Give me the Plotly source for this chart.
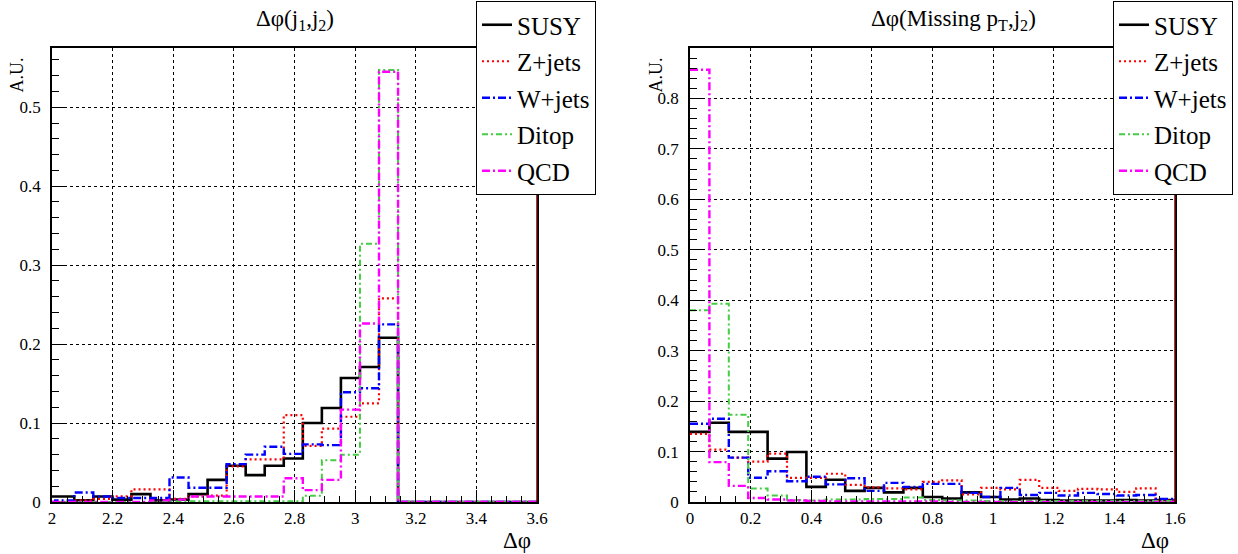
import math
import plotly.graph_objects as go

W, H = 1238, 554

# ---------------- data ----------------
series_names = ["SUSY", "Z+jets", "W+jets", "Ditop", "QCD"]

# Left: Δφ(j1,j2), bin width π/50, first listed bin index 31 (1.948–2.011)
left_first_bin = 31
left_bin_width = math.pi / 50
susy_L = [0.007, 0.007, 0.002, 0.007, 0.003, 0.010, 0.002, 0.003, 0.010, 0.028,
          0.046, 0.034, 0.046, 0.055, 0.100, 0.119, 0.157, 0.171, 0.208]
zjets_L = [0.0, 0.0, 0.002, 0.004, 0.007, 0.016, 0.016, 0.004, 0.007, 0.008,
           0.045, 0.054, 0.054, 0.110, 0.071, 0.093, 0.108, 0.125, 0.258]
wjets_L = [0.0, 0.002, 0.012, 0.007, 0.005, 0.005, 0.005, 0.031, 0.018, 0.018,
           0.048, 0.060, 0.070, 0.061, 0.073, 0.072, 0.139, 0.144, 0.225]
ditop_L = [0.0, 0.0, 0.0, 0.0, 0.0, 0.0, 0.0, 0.001, 0.001, 0.001,
           0.001, 0.001, 0.001, 0.001, 0.008, 0.053, 0.060, 0.327, 0.547]
qcd_L = [0.0, 0.0, 0.0, 0.0, 0.0, 0.0, 0.002, 0.003, 0.007, 0.007,
         0.007, 0.007, 0.007, 0.030, 0.015, 0.028, 0.117, 0.226, 0.545]
left_empty_bins = 8  # empty bins above π, drawn at zero up to the axis end

# Right: Δφ(Missing pT, j2), bin width 0.064, starting at 0
right_bin_width = 0.064
susy_R = [0.139, 0.157, 0.139, 0.139, 0.086, 0.099, 0.030, 0.044, 0.022, 0.028,
          0.019, 0.028, 0.010, 0.007, 0.019, 0.010, 0.005, 0.007, 0.004, 0.003,
          0.003, 0.003, 0.004, 0.003, 0.004]
zjets_R = [0.135, 0.104, 0.088, 0.080, 0.096, 0.048, 0.048, 0.056, 0.034, 0.029,
           0.027, 0.025, 0.040, 0.043, 0.015, 0.028, 0.025, 0.044, 0.028, 0.022,
           0.026, 0.025, 0.020, 0.027, 0.003]
wjets_R = [0.155, 0.165, 0.088, 0.048, 0.061, 0.041, 0.050, 0.035, 0.047, 0.022,
           0.038, 0.030, 0.036, 0.036, 0.018, 0.010, 0.028, 0.014, 0.018, 0.013,
           0.018, 0.016, 0.013, 0.014, 0.006]
ditop_R = [0.380, 0.393, 0.173, 0.027, 0.013, 0.004, 0.003, 0.005, 0.005, 0.006,
           0.006, 0.009, 0.004, 0.003, 0.003, 0.002, 0.002, 0.002, 0.002, 0.002,
           0.002, 0.002, 0.002, 0.002, 0.002]
qcd_R = [0.857, 0.079, 0.032, 0.008, 0.005, 0.003, 0.002, 0.001, 0.001, 0.001,
         0.001, 0.001, 0.001, 0.0, 0.0, 0.0, 0.0, 0.0, 0.0, 0.0,
         0.0, 0.0, 0.0, 0.0, 0.0]
right_empty_bins = 1

left_x_ticks = ["2", "2.2", "2.4", "2.6", "2.8", "3", "3.2", "3.4", "3.6"]
left_y_ticks = ["0", "0.1", "0.2", "0.3", "0.4", "0.5"]
right_x_ticks = ["0", "0.2", "0.4", "0.6", "0.8", "1", "1.2", "1.4", "1.6"]
right_y_ticks = ["0", "0.1", "0.2", "0.3", "0.4", "0.5", "0.6", "0.7", "0.8"]

left_title = "Δφ(j<sub>1</sub>,j<sub>2</sub>)"
right_title = "Δφ(Missing p<sub>T</sub>,j<sub>2</sub>)"
y_title = "A.U."
x_title = "Δφ"

# ---------------- style ----------------
FONT = "Liberation Serif"
styles = {
    "SUSY": dict(color="black", width=2.6, dash="solid"),
    "Z+jets": dict(color="#ff0000", width=2.2, dash="2px,3px"),
    "W+jets": dict(color="#0000ff", width=2.4, dash="8px,3px,2px,3px"),
    "Ditop": dict(color="#44cc44", width=2.0, dash="6px,3px,2px,3px"),
    "QCD": dict(color="#ff00ff", width=2.4, dash="8px,3px,2px,3px"),
}

# pixel layout
L_X0, L_X1 = 52, 537
R_X0, R_X1 = 690, 1175
Y_TOP, Y_BOT = 48, 502


def px(x):
    return x / W


def py(y):
    return 1 - y / H


fig = go.Figure()


def add_hist(vals, first_bin, width, n_empty, name, xa, ya, legend, show):
    v = list(vals) + [0.0] * n_empty
    edges = [(first_bin + i) * width for i in range(len(v) + 1)]
    y = v + [v[-1]]
    st = styles[name]
    fig.add_trace(go.Scatter(
        x=edges, y=y, mode="lines", line_shape="hv", name=name,
        line=dict(color=st["color"], width=st["width"], dash=st["dash"]),
        xaxis=xa, yaxis=ya, legend=legend, legendgroup=legend + name,
        showlegend=show, hoverinfo="skip"))


left_sets = [susy_L, zjets_L, wjets_L, ditop_L, qcd_L]
right_sets = [susy_R, zjets_R, wjets_R, ditop_R, qcd_R]
for name, vals in zip(series_names, left_sets):
    add_hist(vals, left_first_bin, left_bin_width, left_empty_bins, name, "x", "y", "legend", True)
for name, vals in zip(series_names, right_sets):
    add_hist(vals, 0, right_bin_width, right_empty_bins, name, "x2", "y2", "legend2", True)


def axis_common(tickvals, ticktext, major_len, minor_dtick, minor_len):
    return dict(
        tickmode="array", tickvals=[float(t) for t in tickvals], ticktext=ticktext,
        ticks="inside", ticklen=major_len, tickwidth=1, tickcolor="black",
        showgrid=True, gridcolor="black", griddash="dot", gridwidth=1,
        showline=True, linecolor="black", linewidth=1.5, mirror=True,
        zeroline=False, fixedrange=True, automargin=False,
        tickfont=dict(family=FONT, size=17, color="black"),
        minor=dict(dtick=minor_dtick, ticks="inside", ticklen=minor_len,
                   tickcolor="black", tickwidth=1, showgrid=False),
    )


legend_common = dict(xanchor="left", yanchor="top",
                     bgcolor="white", bordercolor="black", borderwidth=1,
                     font=dict(family=FONT, size=25, color="black"),
                     tracegroupgap=1, itemwidth=30)

fig.update_layout(
    width=W, height=H,
    margin=dict(l=0, r=0, t=0, b=0),
    paper_bgcolor="white", plot_bgcolor="white",
    font=dict(family=FONT, color="black"),
    xaxis=dict(domain=[px(L_X0), px(L_X1)], range=[2, 3.6], anchor="y",
               **axis_common(left_x_ticks, left_x_ticks, 12, 0.05, 6)),
    yaxis=dict(domain=[py(Y_BOT), py(Y_TOP)], range=[0, 0.575], anchor="x",
               ticklabelstandoff=6,
               **axis_common(left_y_ticks, left_y_ticks, 13, 0.02, 7)),
    xaxis2=dict(domain=[px(R_X0), px(R_X1)], range=[0, 1.6], anchor="y2",
                **axis_common(right_x_ticks, right_x_ticks, 12, 0.05, 6)),
    yaxis2=dict(domain=[py(Y_BOT), py(Y_TOP)], range=[0, 0.9], anchor="x2",
                ticklabelstandoff=6,
                **axis_common(right_y_ticks, right_y_ticks, 13, 0.02, 7)),
    legend=dict(x=px(476), y=py(1), **legend_common),
    legend2=dict(x=px(1113), y=py(1), **legend_common),
    showlegend=True,
)

# frame right edges (drawn dark red in the original)
for xr in (L_X1, R_X1):
    fig.add_shape(type="line", xref="paper", yref="paper",
                  x0=px(xr), x1=px(xr), y0=py(Y_BOT), y1=py(Y_TOP),
                  line=dict(color="#6a0000", width=1.5))

annots = [
    dict(text=left_title, x=px(295), y=py(20), xanchor="center", yanchor="middle", size=23, angle=0),
    dict(text=right_title, x=px(953), y=py(20), xanchor="center", yanchor="middle", size=23, angle=0),
    dict(text=y_title, x=px(16), y=py(56), xanchor="center", yanchor="top", size=18, angle=-90),
    dict(text=y_title, x=px(655), y=py(56), xanchor="center", yanchor="top", size=18, angle=-90),
    dict(text=x_title, x=px(L_X1 - 4), y=py(540), xanchor="right", yanchor="middle", size=23, angle=0),
    dict(text=x_title, x=px(R_X1 - 4), y=py(540), xanchor="right", yanchor="middle", size=23, angle=0),
]
for a in annots:
    fig.add_annotation(text=a["text"], x=a["x"], y=a["y"], xref="paper", yref="paper",
                       xanchor=a["xanchor"], yanchor=a["yanchor"], showarrow=False,
                       textangle=a["angle"],
                       font=dict(family=FONT, size=a["size"], color="black"))

fig.write_html("out.html", config={"displayModeBar": False},
               post_script="document.body.style.margin='0';document.body.style.overflow='hidden';")
